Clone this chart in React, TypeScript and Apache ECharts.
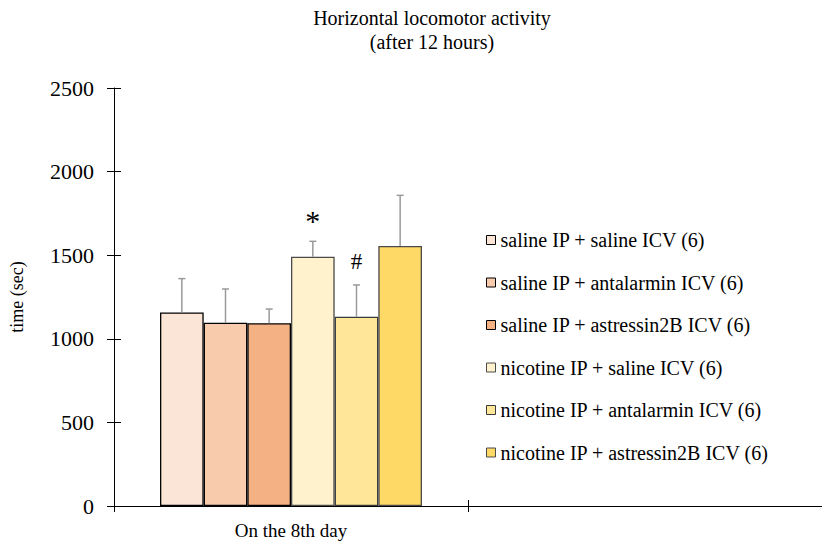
import React, { useEffect, useRef } from "react";
import * as echarts from "echarts";

const categories = ["On the 8th day", ""];
const groupNames = [
  "saline IP + saline ICV (6)",
  "saline IP + antalarmin ICV (6)",
  "saline IP + astressin2B ICV (6)",
  "nicotine IP + saline ICV (6)",
  "nicotine IP + antalarmin ICV (6)",
  "nicotine IP + astressin2B ICV (6)",
];
const meanValues = [1158, 1096, 1093, 1491, 1132, 1555];
const errorValues = [202, 202, 85, 92, 190, 303];
const annotations = ["", "", "", "*", "#", ""];
const yTicks = { min: 0, max: 2500, interval: 500 };
const titleText = "Horizontal locomotor activity\n(after 12 hours)";

const colors = ["#FBE5D6", "#F8CBAD", "#F4B183", "#FFF2CC", "#FFE699", "#FFD966"];
const borderColors = ["#000000", "#000000", "#000000", "#4a4a4a", "#3a3a3a", "#4a4a4a"];
const FONT = '"Liberation Serif", "Times New Roman", serif';
const CAT_GAP = 0.26;

export default function App() {
  const ref = useRef<HTMLDivElement>(null);
  useEffect(() => {
    if (!ref.current) return;
    const chart = echarts.init(ref.current, undefined, { renderer: "svg" });
    const n = meanValues.length;
    const barSeries = groupNames.map((name, i) => ({
      name,
      type: "bar",
      xAxisIndex: 0,
      yAxisIndex: 0,
      barGap: "0%",
      barCategoryGap: CAT_GAP * 100 + "%",
      data: [meanValues[i]],
      itemStyle: { color: colors[i], borderColor: borderColors[i], borderWidth: 1.3 },
      emphasis: { disabled: true },
    }));
    const errData = meanValues.map((m, i) => [0, i, m, m + errorValues[i]]);
    const option: any = {
      animation: false,
      backgroundColor: "#ffffff",
      textStyle: { fontFamily: FONT, color: "#000" },
      title: {
        text: titleText,
        left: 432,
        top: 5,
        show: false,
      },
      graphic: [
        {
          type: "text",
          x: 432,
          y: 6,
          style: {
            text: titleText,
            align: "center",
            verticalAlign: "top",
            font: `20px ${FONT}`,
            lineHeight: 24,
            fill: "#000",
          },
        },
      ],
      legend: {
        orient: "vertical",
        left: 481,
        top: 224,
        itemWidth: 9,
        itemHeight: 9,
        itemGap: 20.5,
        icon: "rect",
        data: groupNames,
        selectedMode: false,
        itemStyle: { borderWidth: 1 },
        textStyle: { fontFamily: FONT, fontSize: 20, color: "#000", lineHeight: 22 },
      },
      grid: { left: 112, top: 88, width: 717, height: 418 },
      xAxis: [
        {
          type: "category",
          data: categories,
          position: "bottom",
          axisLine: { lineStyle: { color: "#000", width: 1 } },
          axisTick: { show: true, length: 6, lineStyle: { color: "#000" } },
          axisLabel: { fontFamily: FONT, fontSize: 19, color: "#000", margin: 15 },
          splitLine: { show: false },
        },
        {
          type: "category",
          data: categories,
          position: "bottom",
          offset: 0,
          axisLine: { show: false },
          axisTick: { show: true, inside: true, length: 6, lineStyle: { color: "#000" } },
          axisLabel: { show: false },
          splitLine: { show: false },
        },
      ],
      yAxis: [
        {
          type: "value",
          min: yTicks.min,
          max: yTicks.max,
          interval: yTicks.interval,
          name: "time (sec)",
          nameLocation: "middle",
          nameGap: 88,
          nameTextStyle: { fontFamily: FONT, fontSize: 18, color: "#000" },
          axisLine: { show: true, lineStyle: { color: "#000", width: 1 } },
          axisTick: { show: true, length: 7, lineStyle: { color: "#000" } },
          axisLabel: { fontFamily: FONT, fontSize: 22, color: "#000", margin: 20, formatter: (v: number) => String(v) },
          splitLine: { show: false },
        },
        {
          type: "value",
          min: yTicks.min,
          max: yTicks.max,
          interval: yTicks.interval,
          position: "left",
          offset: 0,
          axisLine: { show: false },
          axisTick: { show: true, inside: true, length: 7, lineStyle: { color: "#000" } },
          axisLabel: { show: false },
          splitLine: { show: false },
        },
      ],
      series: [
        ...barSeries,
        {
          type: "custom",
          name: "error",
          xAxisIndex: 0,
          yAxisIndex: 0,
          data: errData,
          encode: { x: 0, y: 3 },
          z: 5,
          renderItem: (params: any, api: any) => {
            const idx = api.value(1);
            const mean = api.value(2);
            const upper = api.value(3);
            const center = api.coord([api.value(0), mean]);
            const top = api.coord([api.value(0), upper]);
            const band = api.size([1, 0])[0];
            const total = band * (1 - CAT_GAP);
            const bw = total / n;
            const x = center[0] - total / 2 + (idx + 0.5) * bw;
            const children: any[] = [
              { type: "line", shape: { x1: x, y1: center[1], x2: x, y2: top[1] }, style: { stroke: "#9a9a9a", lineWidth: 1.5 } },
              { type: "line", shape: { x1: x - 3.5, y1: top[1], x2: x + 3.5, y2: top[1] }, style: { stroke: "#9a9a9a", lineWidth: 1.5 } },
            ];
            const a = annotations[idx];
            if (a) {
              const big = a === "*";
              children.push({
                type: "text",
                style: {
                  text: a,
                  x: x,
                  y: big ? top[1] - 6 : top[1] - 12,
                  align: "center",
                  verticalAlign: "bottom",
                  font: `${big ? 30 : 23}px ${FONT}`,
                  fill: "#000",
                },
              });
            }
            return { type: "group", children };
          },
        },
      ],
    };
    chart.setOption(option);
    return () => chart.dispose();
  }, []);
  return <div ref={ref} style={{ width: 822, height: 547, position: "fixed", left: 0, top: 0 }} />;
}
